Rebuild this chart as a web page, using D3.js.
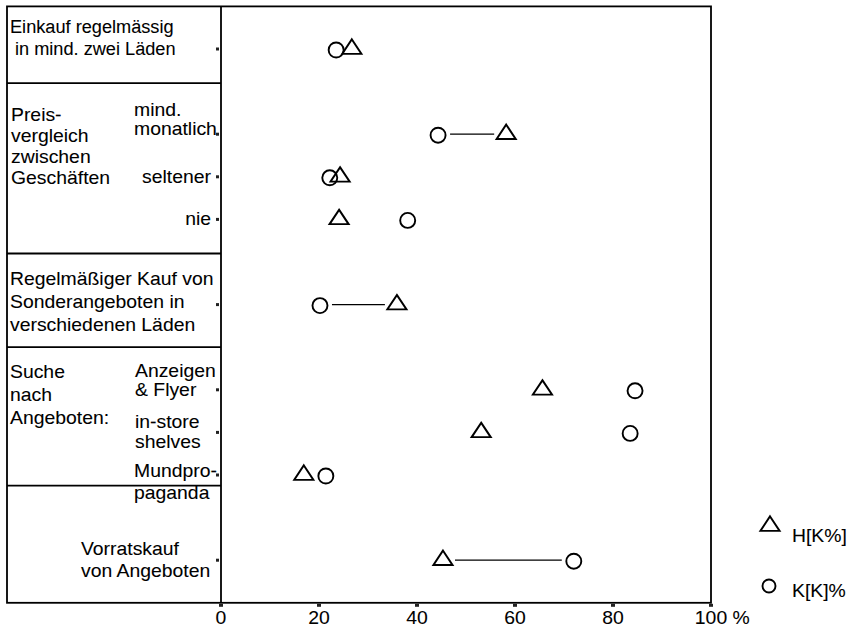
<!DOCTYPE html>
<html><head><meta charset="utf-8">
<script src="https://cdn.jsdelivr.net/npm/d3@7"></script>
<style>body{margin:0;background:#fff}svg{display:block}text{font-family:"Liberation Sans",Arial,sans-serif;font-size:18px;fill:#000;stroke:#000;stroke-width:0.08px}</style>
</head><body><svg id="c" width="850" height="630"></svg>
<script>
// ---- data ----
const rowLabels = [
  ["Einkauf regelmässig", " in mind. zwei Läden"],
  ["mind.", "monatlich"],
  ["seltener"],
  ["nie"],
  ["Regelmäßiger Kauf von", "Sonderangeboten in", "verschiedenen Läden"],
  ["Anzeigen", "& Flyer"],
  ["in-store", "shelves"],
  ["Mundpro-", "paganda"],
  ["Vorratskauf", "von Angeboten"]
];
const groupLabels = [
  ["Preis-", "vergleich", "zwischen", "Geschäften"],
  ["Suche", "nach", "Angeboten:"]
];
const rowPos = [1, 3, 4, 5, 7, 9, 10, 11, 13];
const hValues = [26.7, 58.2, 24.3, 24.1, 35.9, 65.6, 53.1, 16.9, 45.3];
const kValues = [23.5, 44.3, 22.2, 38.1, 20.2, 84.5, 83.5, 21.4, 72.0];
const connected = [false, true, false, false, true, false, false, false, true];
const separators = [1.8, 5.8, 8, 11.25];
const xTicks = [0, 20, 40, 60, 80, 100];
const xTickLabels = ["0", "20", "40", "60", "80", "100 %"];
const seriesNames = ["H[K%]", "K[K]%"];

// ---- layout ----
const SX = 1.077;
const svg = d3.select("#c");
const x = d3.scaleLinear().domain([0, 100]).range([221, 711]);
const y = d3.scaleLinear().domain([0, 14]).range([6.4, 602.8]);
const boxLeft = 7;

function txt(g, s, px, py, anchor, sx) {
  return g.append("text").attr("transform", `translate(${px},${py}) scale(${sx || SX},1)`)
    .attr("text-anchor", anchor || "start").text(s);
}

// frame
const fr = svg.append("g").attr("fill", "none").attr("stroke", "#000").attr("stroke-width", 1.8);
fr.append("rect").attr("x", boxLeft).attr("y", y(0)).attr("width", x(100) - boxLeft).attr("height", y(14) - y(0));
fr.append("line").attr("x1", x(0)).attr("x2", x(0)).attr("y1", y(0)).attr("y2", y(14));
separators.forEach(s => fr.append("line").attr("x1", boxLeft).attr("x2", x(0)).attr("y1", y(s)).attr("y2", y(s)));

// x ticks
const xt = svg.append("g");
xTicks.forEach((t, i) => {
  xt.append("rect").attr("x", x(t) - 2).attr("y", y(14) + 1).attr("width", 4).attr("height", 3).attr("fill", "#222");
});
xTickLabels.forEach((l, i) => {
  if (i < xTickLabels.length - 1) txt(xt, l, x(xTicks[i]), 624, "middle");
  else {
    const num = l.split(" ")[0];
    const tmp = txt(xt, num, 0, 0, "start");
    const w = tmp.node().getComputedTextLength() * SX;
    tmp.remove();
    txt(xt, l, x(xTicks[i]) - w / 2, 624, "start");
  }
});

// row ticks
rowPos.forEach(p => svg.append("rect").attr("x", x(0) - 5).attr("y", y(p) - 1.5).attr("width", 3).attr("height", 3).attr("fill", "#222"));

// labels
const lg = svg.append("g");
const labelLayout = [
  {x: [10, 15], y: [33, 55], a: "start", sx: 1.01},
  {x: [134, 134], y: [116, 135], a: "start"},
  {x: [211], y: [183], a: "end"},
  {x: [211], y: [225], a: "end"},
  {x: [10, 10, 10], y: [285, 308, 331], a: "start"},
  {x: [135, 135], y: [377, 396], a: "start"},
  {x: [135, 135], y: [428, 448], a: "start"},
  {x: [134, 134], y: [477, 499], a: "start"},
  {x: [81, 81], y: [555, 577], a: "start"}
];
rowLabels.forEach((lines, i) => {
  const L = labelLayout[i];
  lines.forEach((s, j) => txt(lg, s.trim(), L.x[j], L.y[j], L.a, L.sx));
});
const groupLayout = [{x: 11, y: [121, 142, 163, 184]}, {x: 10, y: [378, 401, 424]}];
groupLabels.forEach((lines, i) => lines.forEach((s, j) => txt(lg, s, groupLayout[i].x, groupLayout[i].y[j])));

// markers
const tri = d3.symbol().type(d3.symbolTriangle).size(120);
const R = 7.5;
const mg = svg.append("g").attr("fill", "none").attr("stroke", "#000");
rowPos.forEach((p, i) => {
  const yy = y(p);
  if (connected[i]) {
    const a = Math.min(hValues[i], kValues[i]), b = Math.max(hValues[i], kValues[i]);
    mg.append("line").attr("x1", x(a) + 12).attr("x2", x(b) - 12).attr("y1", yy).attr("y2", yy).attr("stroke-width", 1.3);
  }
  mg.append("circle").attr("cx", x(kValues[i])).attr("cy", yy + 1).attr("r", R).attr("stroke-width", 1.9);
  mg.append("path").attr("d", tri).attr("transform", `translate(${x(hValues[i])},${yy}) scale(1.15,1)`).attr("stroke-width", 1.8);
});

// legend
const lgd = svg.append("g");
lgd.append("path").attr("d", tri).attr("transform", "translate(770,526) scale(1.15,1)").attr("fill", "none").attr("stroke", "#000").attr("stroke-width", 1.8);
txt(lgd, seriesNames[0], 792, 542);
lgd.append("circle").attr("cx", 769).attr("cy", 586).attr("r", 6.5).attr("fill", "none").attr("stroke", "#000").attr("stroke-width", 1.9);
txt(lgd, seriesNames[1], 792, 597);
</script></body></html>
